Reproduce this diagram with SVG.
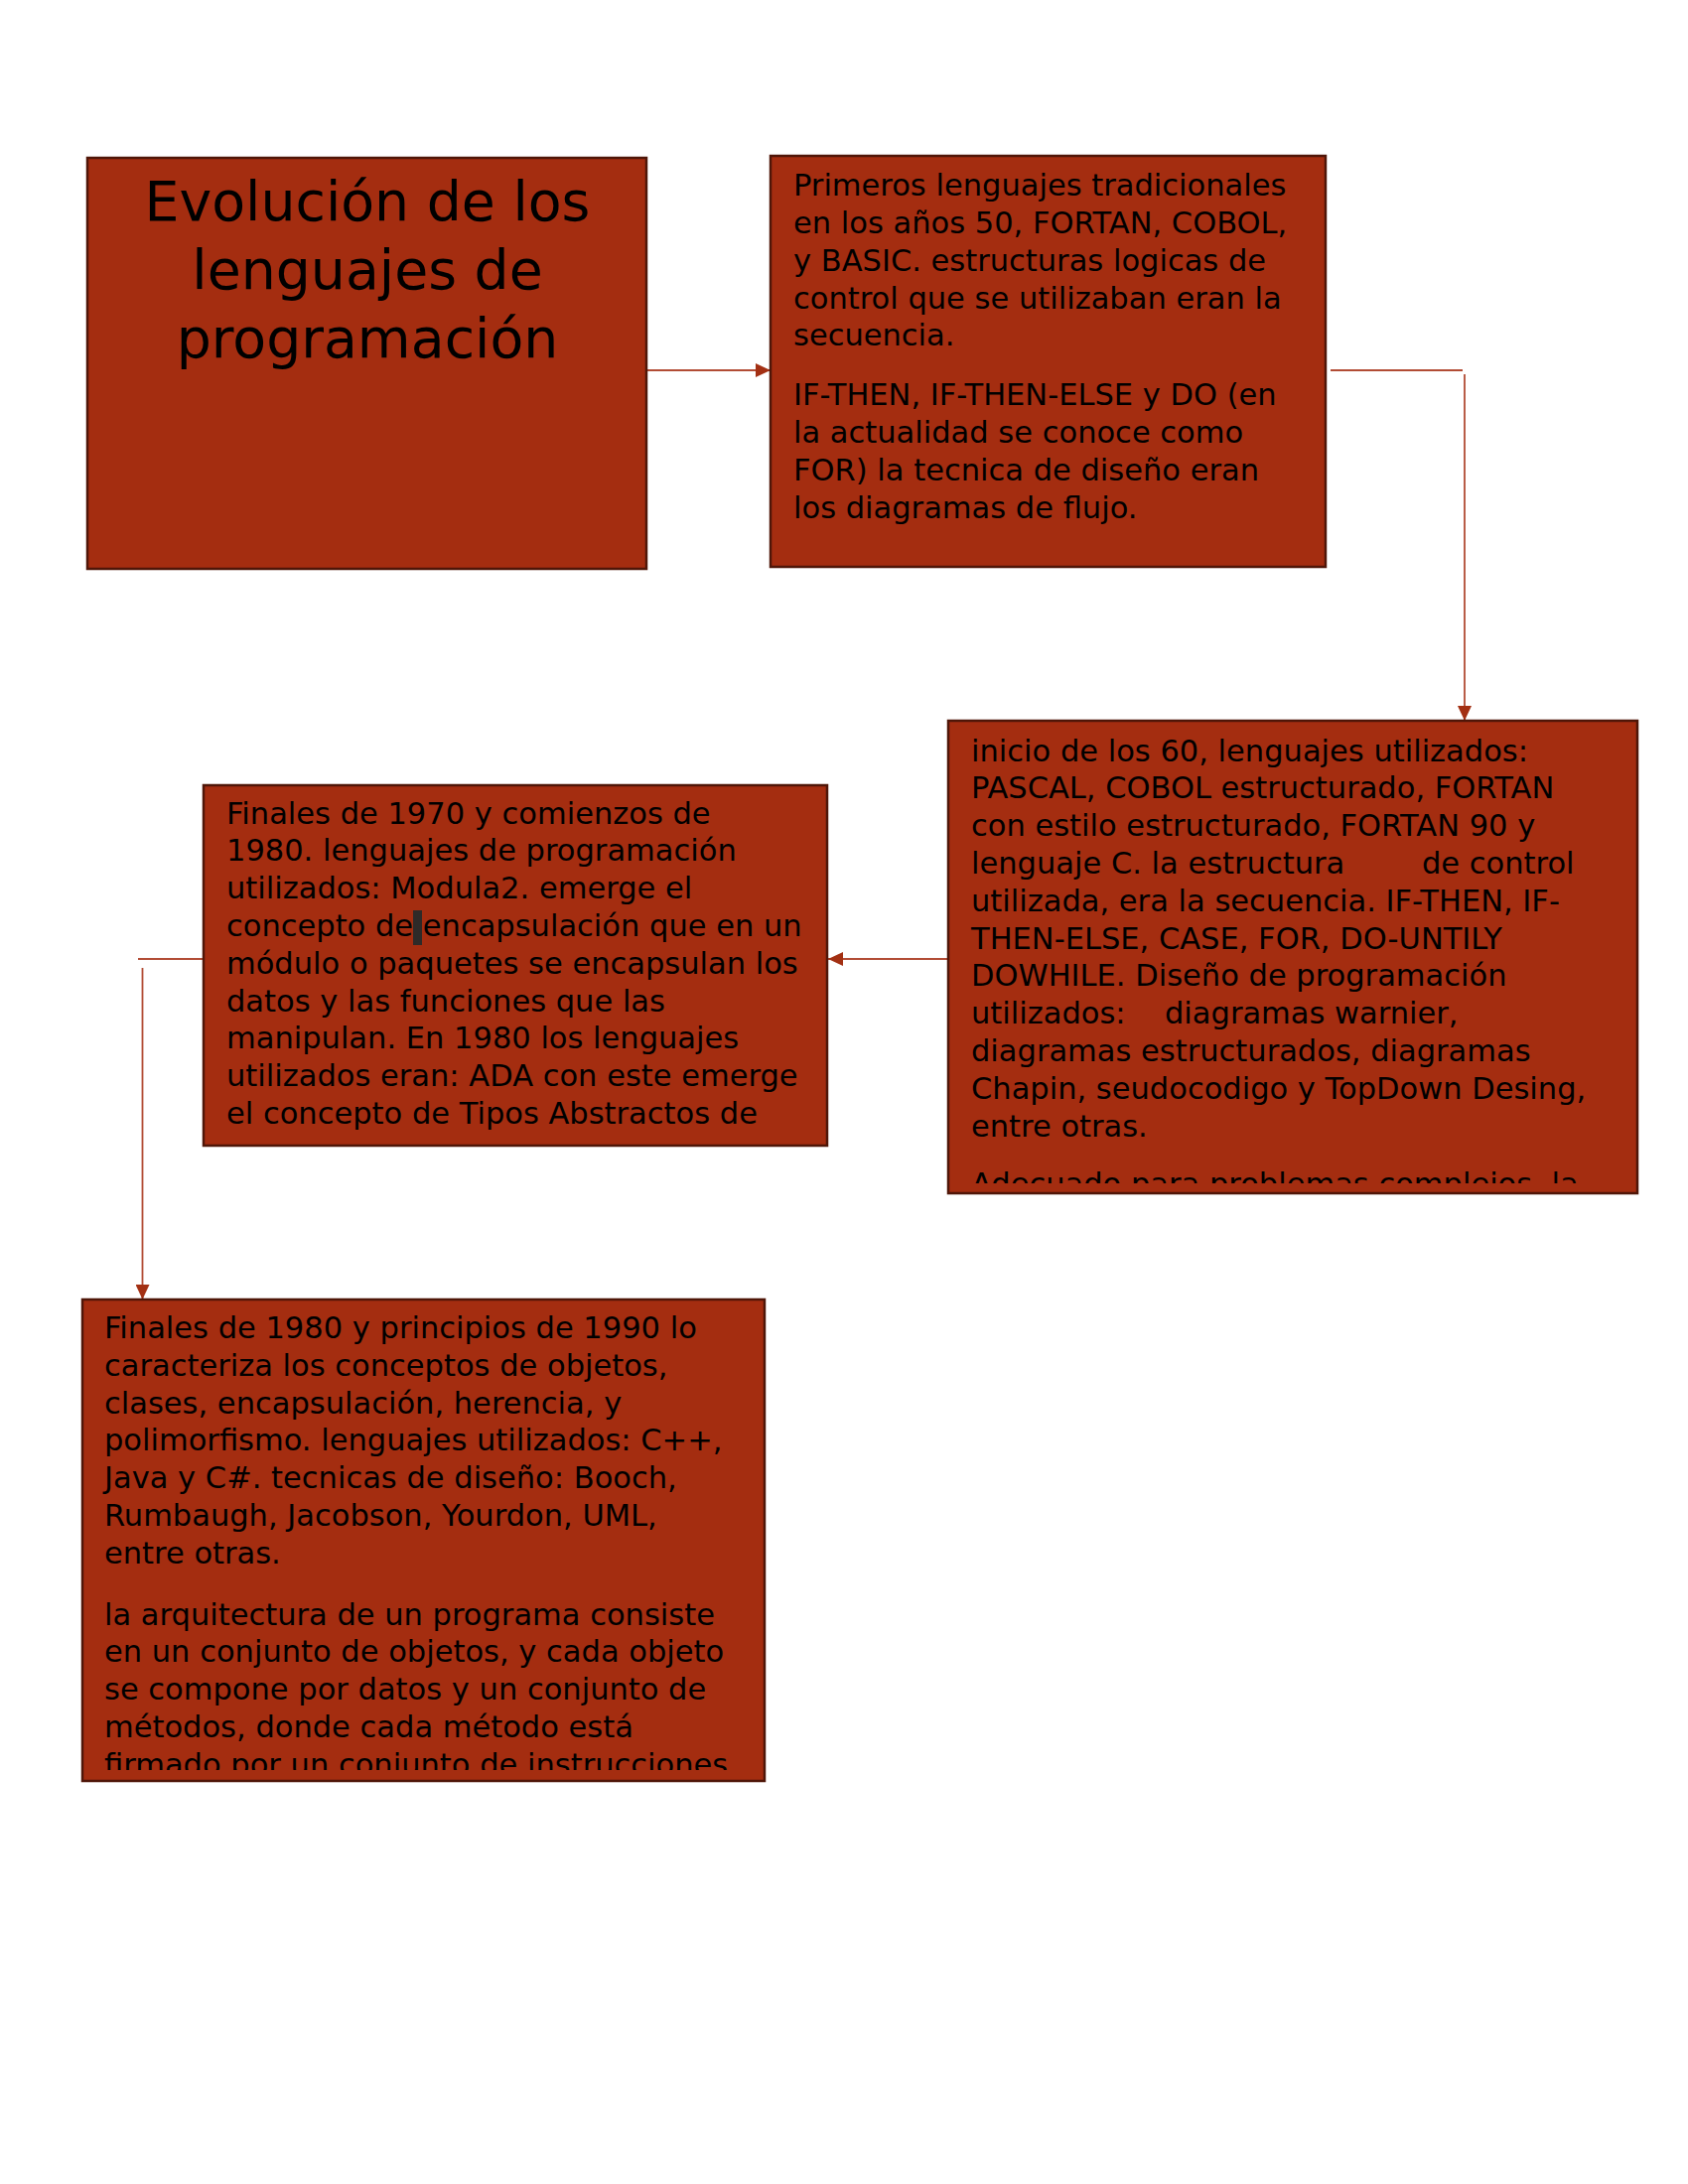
<svg xmlns="http://www.w3.org/2000/svg" width="1700" height="2200" viewBox="0 0 1700 2200">
<style>
.box{fill:#A42D10;stroke:#4F1608;stroke-width:2.5}
.t{font-family:"DejaVu Sans",sans-serif;font-size:30.5px;fill:#000}
.title{font-family:"DejaVu Sans",sans-serif;font-size:55.3px;fill:#000;text-anchor:middle}
.ln{fill:none;stroke:#B24C35;stroke-width:1.8}
</style>
<defs>
<marker id="ah" markerWidth="15" markerHeight="14" refX="15" refY="7" orient="auto" markerUnits="userSpaceOnUse">
<path d="M0,0 L15,7 L0,14 Z" fill="#A33013"/>
</marker>
<clipPath id="c3"><rect x="955" y="726" width="694" height="466"/></clipPath>
<clipPath id="c4"><rect x="205" y="791" width="628" height="354"/></clipPath>
<clipPath id="c5"><rect x="83" y="1309" width="687" height="474"/></clipPath>
</defs>
<rect width="1700" height="2200" fill="#fff"/>

<g id="connectors">
<line class="ln" x1="652" y1="373" x2="776" y2="373" marker-end="url(#ah)"/>
<line class="ln" x1="1340" y1="373" x2="1473" y2="373"/>
<line class="ln" x1="1475" y1="377" x2="1475" y2="726" marker-end="url(#ah)"/>
<line class="ln" x1="955" y1="966" x2="834" y2="966" marker-end="url(#ah)"/>
<line class="ln" x1="204" y1="966" x2="139" y2="966"/>
<line class="ln" x1="143.5" y1="975" x2="143.5" y2="1309" marker-end="url(#ah)"/>
</g>

<g id="n1">
<rect class="box" x="88" y="159" width="563" height="414"/>
<text class="title" x="370" y="222">Evolución de los</text>
<text class="title" x="370" y="291">lenguajes de</text>
<text class="title" x="370" y="360">programación</text>
</g>

<g id="n2">
<rect class="box" x="776" y="157" width="559" height="414"/>
<text class="t" x="799" y="197">Primeros lenguajes tradicionales</text>
<text class="t" x="799" y="235">en los años 50, FORTAN, COBOL,</text>
<text class="t" x="799" y="273">y BASIC. estructuras logicas de</text>
<text class="t" x="799" y="311">control que se utilizaban eran la</text>
<text class="t" x="799" y="348">secuencia.</text>
<text class="t" x="799" y="408">IF-THEN, IF-THEN-ELSE y DO (en</text>
<text class="t" x="799" y="446">la actualidad se conoce como</text>
<text class="t" x="799" y="484">FOR) la tecnica de diseño eran</text>
<text class="t" x="799" y="522">los diagramas de flujo.</text>
</g>

<g id="n3">
<rect class="box" x="955" y="726" width="694" height="476"/>
<g clip-path="url(#c3)">
<text class="t" x="978" y="766.5">inicio de los 60, lenguajes utilizados:</text>
<text class="t" x="978" y="804.3">PASCAL, COBOL estructurado, FORTAN</text>
<text class="t" x="978" y="842.1">con estilo estructurado, FORTAN 90 y</text>
<text class="t" x="978" y="879.9">lenguaje C. la estructura</text>
<text class="t" x="1432" y="879.9">de control</text>
<text class="t" x="978" y="917.7">utilizada, era la secuencia. IF-THEN, IF-</text>
<text class="t" x="978" y="955.5">THEN-ELSE, CASE, FOR, DO-UNTILY</text>
<text class="t" x="978" y="993.3">DOWHILE. Diseño de programación</text>
<text class="t" x="978" y="1031.1">utilizados:</text>
<text class="t" x="1173" y="1031.1">diagramas warnier,</text>
<text class="t" x="978" y="1068.9">diagramas estructurados, diagramas</text>
<text class="t" x="978" y="1106.7">Chapin, seudocodigo y TopDown Desing,</text>
<text class="t" x="978" y="1144.5">entre otras.</text>
<text class="t" x="978" y="1203">Adecuado para problemas complejos, la</text>
</g>
</g>

<g id="n4">
<rect class="box" x="205" y="791" width="628" height="363"/>
<g clip-path="url(#c4)">
<text class="t" x="228" y="829.5">Finales de 1970 y comienzos de</text>
<text class="t" x="228" y="867.3">1980. lenguajes de programación</text>
<text class="t" x="228" y="905.1">utilizados: Modula2. emerge el</text>
<text class="t" x="228" y="942.9">concepto de encapsulación que en un</text>
<text class="t" x="228" y="980.7">módulo o paquetes se encapsulan los</text>
<text class="t" x="228" y="1018.5">datos y las funciones que las</text>
<text class="t" x="228" y="1056.3">manipulan. En 1980 los lenguajes</text>
<text class="t" x="228" y="1094.1">utilizados eran: ADA con este emerge</text>
<text class="t" x="228" y="1131.9">el concepto de Tipos Abstractos de</text>
</g>
<rect x="416" y="917" width="9" height="35" fill="#2E2A28"/>
</g>

<g id="n5">
<rect class="box" x="83" y="1309" width="687" height="485"/>
<g clip-path="url(#c5)">
<text class="t" x="105" y="1348">Finales de 1980 y principios de 1990 lo</text>
<text class="t" x="105" y="1385.8">caracteriza los conceptos de objetos,</text>
<text class="t" x="105" y="1423.6">clases, encapsulación, herencia, y</text>
<text class="t" x="105" y="1461.4">polimorfismo. lenguajes utilizados: C++,</text>
<text class="t" x="105" y="1499.2">Java y C#. tecnicas de diseño: Booch,</text>
<text class="t" x="105" y="1537">Rumbaugh, Jacobson, Yourdon, UML,</text>
<text class="t" x="105" y="1574.8">entre otras.</text>
<text class="t" x="105" y="1636.5">la arquitectura de un programa consiste</text>
<text class="t" x="105" y="1674.3">en un conjunto de objetos, y cada objeto</text>
<text class="t" x="105" y="1712.1">se compone por datos y un conjunto de</text>
<text class="t" x="105" y="1749.9">métodos, donde cada método está</text>
<text class="t" x="105" y="1787.7">firmado por un conjunto de instrucciones</text>
</g>
</g>
</svg>
